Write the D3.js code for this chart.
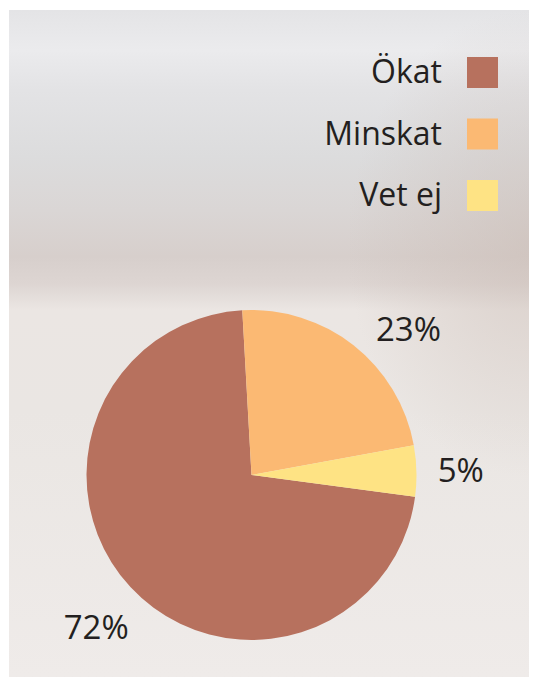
<!DOCTYPE html>
<html>
<head>
<meta charset="utf-8">
<script src="https://cdn.jsdelivr.net/npm/d3@7"></script>
<style>
  body { margin: 0; background: #fff; }
  text { font-family: "Open Sans", "Noto Sans", sans-serif; fill: #231f20; }
</style>
</head>
<body>
<div id="chart"></div>
<script>
const categories = ["Ökat", "Minskat", "Vet ej"];
const values = [72, 23, 5];
const labels = ["72%", "23%", "5%"];
const colors = ["#b7715e", "#fbb973", "#fee384"];

const width = 538, height = 686;
const svg = d3.select("#chart").append("svg")
  .attr("width", width)
  .attr("height", height);

// soft blurred photo background
const defs = svg.append("defs");
const bg = defs.append("linearGradient")
  .attr("id", "bg").attr("x1", 0).attr("y1", 0).attr("x2", 0).attr("y2", 1);
[[0, "#e4e4e6"], [0.06, "#ebebed"], [0.12, "#e3e3e5"], [0.22, "#dcdcdd"],
 [0.3, "#dad6d5"], [0.37, "#d7cfcc"], [0.41, "#ddd5d2"], [0.45, "#ebe6e3"],
 [0.6, "#eae6e3"], [1, "#efebe9"]]
  .forEach(s => bg.append("stop").attr("offset", s[0]).attr("stop-color", s[1]));

const side = defs.append("radialGradient")
  .attr("id", "side").attr("cx", 1).attr("cy", 0.35).attr("r", 0.35);
side.append("stop").attr("offset", 0).attr("stop-color", "#cbbdb6").attr("stop-opacity", 0.55);
side.append("stop").attr("offset", 1).attr("stop-color", "#cbbdb6").attr("stop-opacity", 0);

svg.append("rect").attr("x", 9).attr("y", 10).attr("width", 520).attr("height", 667)
  .attr("fill", "url(#bg)");
svg.append("rect").attr("x", 9).attr("y", 10).attr("width", 520).attr("height", 667)
  .attr("fill", "url(#side)");

// legend
const legend = svg.append("g");
const legendY = d3.scalePoint().domain(categories).range([72, 195]);
categories.forEach((c, i) => {
  legend.append("text")
    .attr("x", 442)
    .attr("y", legendY(c) + 11)
    .attr("text-anchor", "end")
    .attr("font-size", 32)
    .attr("font-weight", 500)
    .text(c);
  legend.append("rect")
    .attr("x", 467)
    .attr("y", legendY(c) - 15)
    .attr("width", 31)
    .attr("height", 31)
    .attr("fill", colors[i]);
});

// pie
const cx = 251.5, cy = 475, r = 165;
const a0 = 97.6 * Math.PI / 180;
const pie = d3.pie().sort(null).value(d => d)
  .startAngle(a0).endAngle(a0 + 2 * Math.PI);
const arcs = pie(values);
const arc = d3.arc().innerRadius(0).outerRadius(r);

const g = svg.append("g").attr("transform", `translate(${cx},${cy})`);
g.selectAll("path")
  .data(arcs)
  .join("path")
  .attr("d", arc)
  .attr("fill", (d, i) => colors[i]);

// labels outside slices
g.selectAll("text.lbl")
  .data(arcs)
  .join("text")
  .attr("class", "lbl")
  .each(function (d) {
    const mid = (d.startAngle + d.endAngle) / 2;
    const right = Math.sin(mid) > 0;
    const lr = right ? 186 : 200;
    let x = Math.sin(mid) * lr;
    let y = -Math.cos(mid) * lr;
    if (right) { x += 12 * Math.cos(mid); } else { x += 24; y += 16; }
    d3.select(this)
      .attr("x", x)
      .attr("y", y + 12)
      .attr("text-anchor", right ? "start" : "end");
  })
  .attr("font-size", 33)
  .text((d, i) => labels[i]);
</script>
</body>
</html>
